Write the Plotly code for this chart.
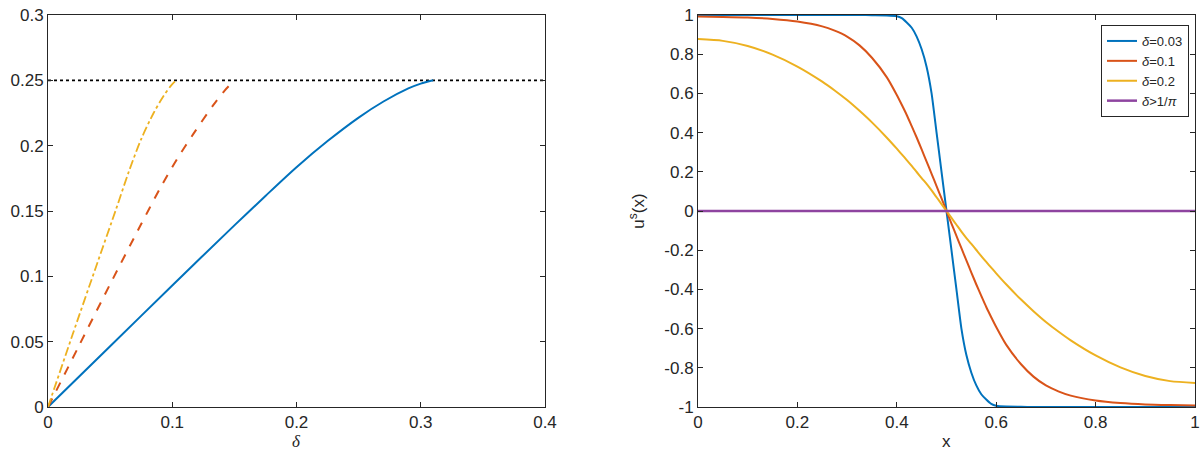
import plotly.graph_objects as go

# ---------- left panel data ----------
d_blue = [0, 0.05, 0.1, 0.15, 0.175, 0.2, 0.225, 0.25, 0.27, 0.29, 0.3, 0.31]
v_blue = [0, 0.0465, 0.093, 0.139, 0.1615, 0.1835, 0.2035, 0.2215, 0.2338, 0.2438, 0.2475, 0.25]

d_red = [0, 0.025, 0.05, 0.075, 0.09, 0.104, 0.117, 0.133, 0.142, 0.15]
v_red = [0, 0.047, 0.094, 0.14, 0.167, 0.19, 0.209, 0.231, 0.242, 0.25]

d_yel = [0, 0.02, 0.04, 0.055, 0.065, 0.075, 0.085, 0.093, 0.099, 0.103]
v_yel = [0, 0.056, 0.111, 0.152, 0.18, 0.205, 0.225, 0.238, 0.246, 0.25]

d_ref = [0, 0.4]
v_ref = [0.25, 0.25]

# ---------- right panel data ----------
x_grid = [0, 0.05, 0.1, 0.15, 0.2, 0.25, 0.275, 0.3, 0.325, 0.35, 0.38, 0.4, 0.41, 0.42, 0.43, 0.44, 0.45, 0.46,
          0.47, 0.48, 0.49, 0.5,
          0.51, 0.52, 0.53, 0.54, 0.55, 0.56, 0.57, 0.58, 0.59, 0.6, 0.62, 0.65, 0.675, 0.7, 0.725, 0.75,
          0.8, 0.85, 0.9, 0.95, 1.0]
u_003 = [1.0, 1.0, 1.0, 1.0, 1.0, 1.0, 1.0, 1.0, 1.0, 0.999, 0.998, 0.994, 0.984, 0.962, 0.935, 0.89, 0.825, 0.735,
         0.6, 0.4, 0.2, 0.0,
         -0.2, -0.4, -0.6, -0.735, -0.825, -0.89, -0.935, -0.962, -0.984, -0.994, -0.998, -0.999, -1.0, -1.0, -1.0, -1.0,
         -1.0, -1.0, -1.0, -1.0, -1.0]
u_01 = [0.992, 0.99, 0.987, 0.98, 0.967, 0.942, 0.92, 0.89, 0.845, 0.782, 0.682, 0.592, 0.542, 0.49, 0.433, 0.375, 0.314, 0.252,
        0.19, 0.127, 0.064, 0.0,
        -0.064, -0.127, -0.19, -0.252, -0.314, -0.375, -0.433, -0.49, -0.542, -0.592, -0.682, -0.782, -0.845, -0.89, -0.92, -0.942,
        -0.967, -0.98, -0.987, -0.99, -0.992]
u_02 = [0.877, 0.868, 0.842, 0.798, 0.737, 0.66, 0.615, 0.566, 0.511, 0.452, 0.374, 0.318, 0.289, 0.26, 0.23, 0.199, 0.168, 0.138,
        0.105, 0.07, 0.035, 0.0,
        -0.035, -0.07, -0.105, -0.138, -0.168, -0.199, -0.23, -0.26, -0.289, -0.318, -0.374, -0.452, -0.511, -0.566, -0.615, -0.66,
        -0.737, -0.798, -0.842, -0.868, -0.877]
x_flat = [0, 1]
u_flat = [0, 0]

left_xticks = [0, 0.1, 0.2, 0.3, 0.4]
left_xtext = ["0", "0.1", "0.2", "0.3", "0.4"]
left_yticks = [0, 0.05, 0.1, 0.15, 0.2, 0.25, 0.3]
left_ytext = ["0", "0.05", "0.1", "0.15", "0.2", "0.25", "0.3"]
right_xticks = [0, 0.2, 0.4, 0.6, 0.8, 1]
right_xtext = ["0", "0.2", "0.4", "0.6", "0.8", "1"]
right_yticks = [-1, -0.8, -0.6, -0.4, -0.2, 0, 0.2, 0.4, 0.6, 0.8, 1]
right_ytext = ["-1", "-0.8", "-0.6", "-0.4", "-0.2", "0", "0.2", "0.4", "0.6", "0.8", "1"]

C_BLUE = "#0072BD"
C_RED = "#D95319"
C_YEL = "#EDB120"
C_PUR = "#8E44A0"
AX = "#262626"

fig = go.Figure()
fig.add_trace(go.Scatter(x=d_ref, y=v_ref, mode="lines", line=dict(color="black", width=1.8, dash="dot"),
                         showlegend=False, xaxis="x", yaxis="y"))
fig.add_trace(go.Scatter(x=d_blue, y=v_blue, mode="lines", line=dict(color=C_BLUE, width=2, shape="spline", smoothing=0.8),
                         showlegend=False, xaxis="x", yaxis="y"))
fig.add_trace(go.Scatter(x=d_red, y=v_red, mode="lines", line=dict(color=C_RED, width=2, dash="dash", shape="spline", smoothing=0.8),
                         showlegend=False, xaxis="x", yaxis="y"))
fig.add_trace(go.Scatter(x=d_yel, y=v_yel, mode="lines", line=dict(color=C_YEL, width=1.8, dash="dashdot", shape="spline", smoothing=0.8),
                         showlegend=False, xaxis="x", yaxis="y"))

fig.add_trace(go.Scatter(x=x_grid, y=u_003, mode="lines", line=dict(color=C_BLUE, width=2, shape="spline", smoothing=0.5),
                         name="<i>δ</i>=0.03", xaxis="x2", yaxis="y2"))
fig.add_trace(go.Scatter(x=x_grid, y=u_01, mode="lines", line=dict(color=C_RED, width=2, shape="spline", smoothing=0.7),
                         name="<i>δ</i>=0.1", xaxis="x2", yaxis="y2"))
fig.add_trace(go.Scatter(x=x_grid, y=u_02, mode="lines", line=dict(color=C_YEL, width=2, shape="spline", smoothing=0.7),
                         name="<i>δ</i>=0.2", xaxis="x2", yaxis="y2"))
fig.add_trace(go.Scatter(x=x_flat, y=u_flat, mode="lines", line=dict(color=C_PUR, width=2.5),
                         name="<i>δ</i>&gt;1/<i>π</i>", xaxis="x2", yaxis="y2"))

W, H = 1204, 450
TICKFONT = dict(family="Liberation Sans, Arial", size=17, color=AX)
axis_common = dict(showline=True, linecolor=AX, linewidth=1, mirror="ticks", ticks="inside", ticklen=5,
                   tickcolor=AX, showgrid=False, zeroline=False, tickfont=TICKFONT, automargin=False)

fig.update_layout(
    width=W, height=H, margin=dict(l=0, r=0, t=0, b=0, autoexpand=False),
    paper_bgcolor="white", plot_bgcolor="white",
    xaxis=dict(domain=[48 / W, 545 / W], range=[0, 0.4], tickvals=left_xticks, ticktext=left_xtext,
               anchor="y", **axis_common),
    yaxis=dict(domain=[1 - 407 / H, 1 - 15 / H], range=[0, 0.3], tickvals=left_yticks, ticktext=left_ytext,
               anchor="x", **axis_common),
    xaxis2=dict(domain=[698 / W, 1195 / W], range=[0, 1], tickvals=right_xticks, ticktext=right_xtext,
                anchor="y2", **axis_common),
    yaxis2=dict(domain=[1 - 407 / H, 1 - 15 / H], range=[-1, 1], tickvals=right_yticks, ticktext=right_ytext,
                title=dict(text="u<sup>s</sup>(x)", font=dict(family="Liberation Sans, Arial", size=17, color=AX)),
                anchor="x2", **axis_common),
    legend=dict(x=1189 / W, xanchor="right", y=1 - 25 / H, yanchor="top", bgcolor="white",
                bordercolor=AX, borderwidth=1, font=dict(family="Liberation Sans, Arial", size=13, color=AX),
                tracegroupgap=0, itemwidth=30),
    showlegend=True,
    annotations=[
        dict(text="<i>δ</i>", xref="paper", yref="paper", x=(48 + 545) / 2 / W, y=1 - 441 / H,
             xanchor="center", yanchor="middle", showarrow=False,
             font=dict(family="Liberation Serif, serif", size=17, color=AX)),
        dict(text="x", xref="paper", yref="paper", x=(698 + 1195) / 2 / W, y=1 - 441 / H,
             xanchor="center", yanchor="middle", showarrow=False,
             font=dict(family="Liberation Sans, Arial", size=17, color=AX)),
    ],
)

fig.write_html("out.html")
